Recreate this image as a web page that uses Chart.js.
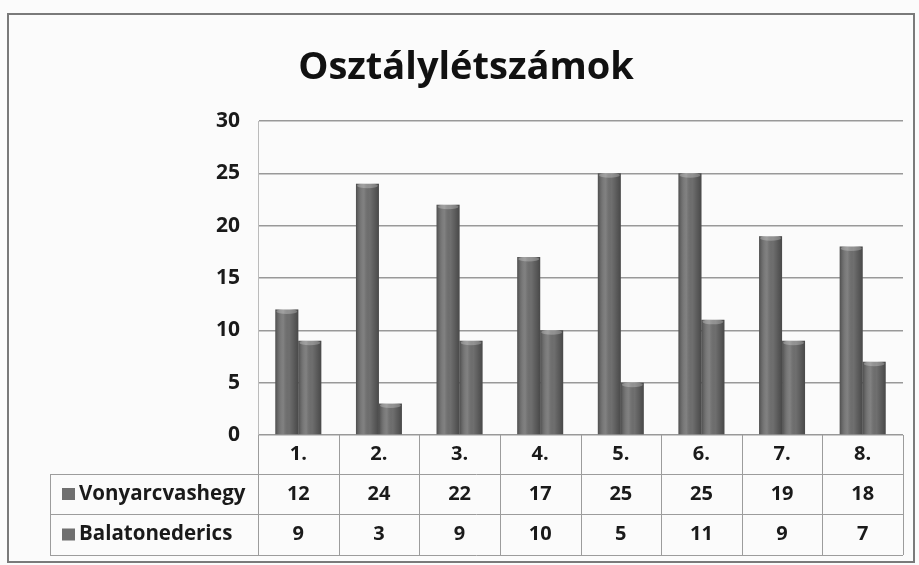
<!DOCTYPE html>
<html>
<head>
<meta charset="utf-8">
<title>Osztálylétszámok</title>
<script src="https://cdn.jsdelivr.net/npm/chart.js@4.4.1/dist/chart.umd.min.js"></script>
<style>
  html, body { margin: 0; padding: 0; background: #fbfbfb; }
  #wrap { position: relative; width: 919px; height: 565px; }
</style>
</head>
<body>
<div id="wrap"><canvas id="chart"></canvas></div>
<script>
// adatok
const categories = ['1.', '2.', '3.', '4.', '5.', '6.', '7.', '8.'];
const seriesNames = ['Vonyarcvashegy', 'Balatonederics'];
const vonyarcvashegy = [12, 24, 22, 17, 25, 25, 19, 18];
const balatonederics = [9, 3, 9, 10, 5, 11, 9, 7];
const yMin = 0, yMax = 30, yStep = 5;
const chartTitle = 'Osztálylétszámok';

const FONT = '"Open Sans", "DejaVu Sans", sans-serif';
const barColor = '#6f6f6f';

// henger-hatás a hasábokon
const cylinder = {
  id: 'cylinder',
  afterDatasetsDraw(chart) {
    const ctx = chart.ctx;
    chart.data.datasets.forEach((ds, i) => {
      chart.getDatasetMeta(i).data.forEach(bar => {
        const l = bar.x - bar.width / 2, r = bar.x + bar.width / 2;
        const g = ctx.createLinearGradient(l, 0, r, 0);
        g.addColorStop(0, 'rgba(0,0,0,0.30)');
        g.addColorStop(0.35, 'rgba(255,255,255,0.12)');
        g.addColorStop(0.6, 'rgba(0,0,0,0)');
        g.addColorStop(1, 'rgba(0,0,0,0.35)');
        ctx.save();
        ctx.fillStyle = g;
        ctx.fillRect(l, bar.y, bar.width, bar.base - bar.y);
        ctx.fillStyle = 'rgba(255,255,255,0.25)';
        ctx.beginPath();
        ctx.ellipse(bar.x, bar.y + 2, bar.width / 2 - 1, 2.5, 0, 0, Math.PI * 2);
        ctx.fill();
        ctx.restore();
      });
    });
  }
};

// cím, adattábla és keret
const dataTable = {
  id: 'dataTable',
  afterDraw(chart) {
    const ctx = chart.ctx;
    const area = chart.chartArea;
    const x = chart.scales.x;
    const colW = (area.right - area.left) / categories.length;
    const rows = [area.bottom, area.bottom + 39, area.bottom + 79, area.bottom + 120];
    const legendLeft = 50;

    ctx.save();
    ctx.fillStyle = '#111';
    ctx.font = 'bold 38px ' + FONT;
    ctx.textAlign = 'center';
    ctx.textBaseline = 'middle';
    ctx.fillText(chartTitle, 466, 68);

    ctx.strokeStyle = '#9c9c9c';
    ctx.lineWidth = 1;
    ctx.beginPath();
    // függőleges vonalak
    for (let i = 0; i <= categories.length; i++) {
      const px = Math.round(area.left + i * colW) + 0.5;
      ctx.moveTo(px, rows[0]);
      ctx.lineTo(px, rows[3]);
    }
    ctx.moveTo(legendLeft + 0.5, rows[1]);
    ctx.lineTo(legendLeft + 0.5, rows[3]);
    // vízszintes vonalak
    for (let r = 1; r < rows.length; r++) {
      ctx.moveTo(legendLeft, Math.round(rows[r]) + 0.5);
      ctx.lineTo(area.right, Math.round(rows[r]) + 0.5);
    }
    ctx.stroke();

    ctx.fillStyle = '#1a1a1a';
    ctx.font = 'bold 20px ' + FONT;
    const values = [vonyarcvashegy, balatonederics];
    categories.forEach((c, i) => {
      const cx = x.getPixelForValue(i);
      ctx.fillText(c, cx, (rows[0] + rows[1]) / 2);
      values.forEach((v, s) => {
        ctx.fillText(String(v[i]), cx, (rows[s + 1] + rows[s + 2]) / 2);
      });
    });

    ctx.textAlign = 'left';
    seriesNames.forEach((name, s) => {
      const cy = (rows[s + 1] + rows[s + 2]) / 2;
      ctx.fillStyle = barColor;
      ctx.fillRect(62, cy - 6, 13, 12);
      ctx.fillStyle = '#1a1a1a';
      ctx.font = 'bold 20.5px ' + FONT;
      ctx.fillText(name, 79, cy);
    });

    // keret
    ctx.strokeStyle = '#7a7a7a';
    ctx.lineWidth = 2;
    ctx.strokeRect(8, 14, 906, 548);
    ctx.restore();
  }
};

new Chart(document.getElementById('chart'), {
  type: 'bar',
  data: {
    labels: categories,
    datasets: [
      { label: seriesNames[0], data: vonyarcvashegy, backgroundColor: barColor },
      { label: seriesNames[1], data: balatonederics, backgroundColor: barColor }
    ]
  },
  options: {
    responsive: true,
    maintainAspectRatio: false,
    animation: false,
    datasets: {
      bar: { categoryPercentage: 0.57, barPercentage: 1 }
    },
    layout: { padding: { left: 0, right: 16, top: 121, bottom: 130 } },
    plugins: {
      legend: { display: false },
      tooltip: { enabled: false },
      title: { display: false }
    },
    scales: {
      x: { display: false },
      y: {
        min: yMin,
        max: yMax,
        afterFit: s => { s.width = 258; },
        ticks: {
          stepSize: yStep,
          padding: 18,
          color: '#1a1a1a',
          font: { family: FONT, size: 21, weight: 'bold' }
        },
        grid: { color: '#999', lineWidth: 1.5, drawTicks: false },
        border: { color: '#bbb' }
      }
    }
  },
  plugins: [cylinder, dataTable]
});
</script>
</body>
</html>
